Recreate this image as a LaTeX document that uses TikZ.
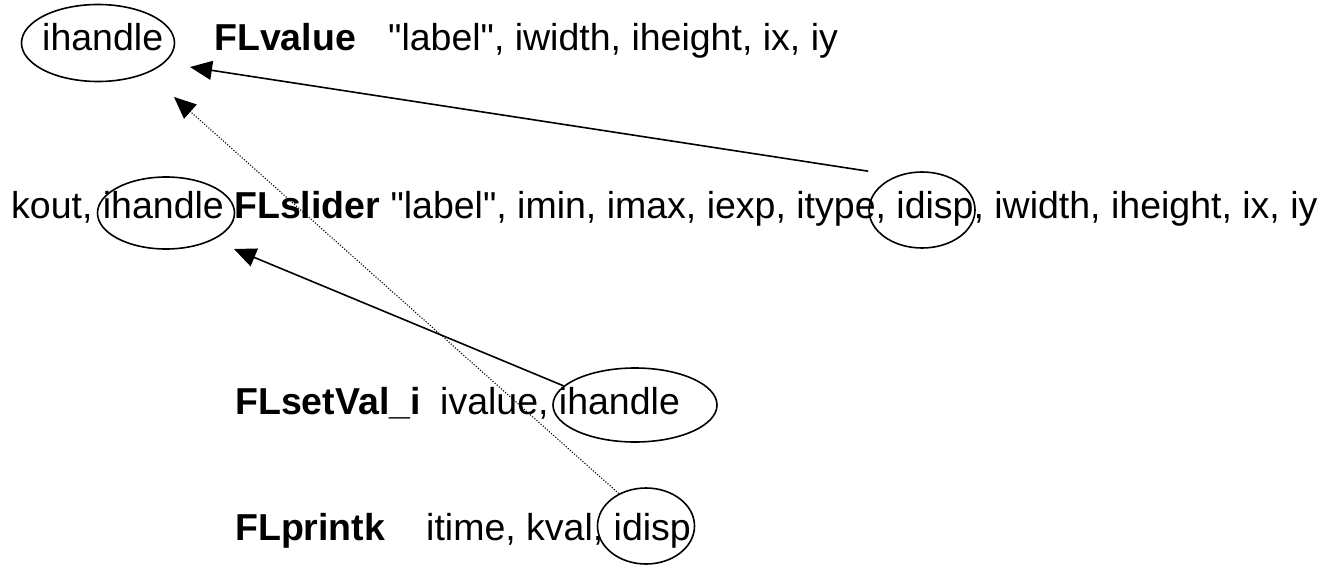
\documentclass[tikz,border=0pt]{standalone}
\usepackage{fontspec}
\setmainfont{Liberation Sans}
\usetikzlibrary{arrows.meta,shapes.geometric}
\newcommand{\qlabel}{\textquotedbl label\textquotedbl}
\begin{document}
\begin{tikzpicture}[x=1pt,y=-1pt,font=\fontsize{37.5}{45}\selectfont,
  txt/.style={anchor=base west,inner sep=0pt},
  oval/.style={draw,ellipse,line width=1.6pt,inner sep=0pt},
  ptr/.style={line width=1.6pt,-{Triangle[length=22pt,width=19pt]}},
  dptr/.style={line width=1.1pt,dash pattern=on 1.1pt off 1.7pt,-{Triangle[length=22pt,width=19pt]}}]
  \useasboundingbox (0,0) rectangle (1326,565);
  \node[txt] (r1a) at (42,50){ihandle};
  \node[txt] (r1b) at (214,50){\textbf{FLvalue}};
  \node[txt] (r1c) at (388,50){\qlabel, iwidth, iheight, ix, iy};
  \node[txt] (r2) at (11,218){kout, ihandle \textbf{FLslider} \qlabel, imin, imax, iexp, itype, idisp, iwidth, iheight, ix, iy};
  \node[txt] (r3a) at (235,414){\textbf{FLsetVal\_i}};
  \node[txt] (r3b) at (440,414){ivalue, ihandle};
  \node[txt] (r4a) at (235,540){\textbf{FLprintk}};
  \node[txt] (r4b) at (426,540){itime, kval, idisp};
  \node[oval,minimum width=153pt,minimum height=77pt] (e0) at (98,43){};
  \node[oval,minimum width=137pt,minimum height=72pt] (e1) at (166,213){};
  \node[oval,minimum width=106pt,minimum height=76pt] (e2) at (922,210){};
  \node[oval,minimum width=164pt,minimum height=74pt] (e3) at (635,405){};
  \node[oval,minimum width=97pt,minimum height=76pt] (e4) at (646,526){};
  \coordinate (tip1) at (190,67);
  \coordinate (tip2) at (234,249);
  \coordinate (tip3) at (174,97);
  \draw[ptr] (e2.west |- e2.north) -- (tip1);
  \draw[ptr] (e3.165) -- (tip2);
  \draw[dptr] (e4.130) -- (tip3);
\end{tikzpicture}
\end{document}
